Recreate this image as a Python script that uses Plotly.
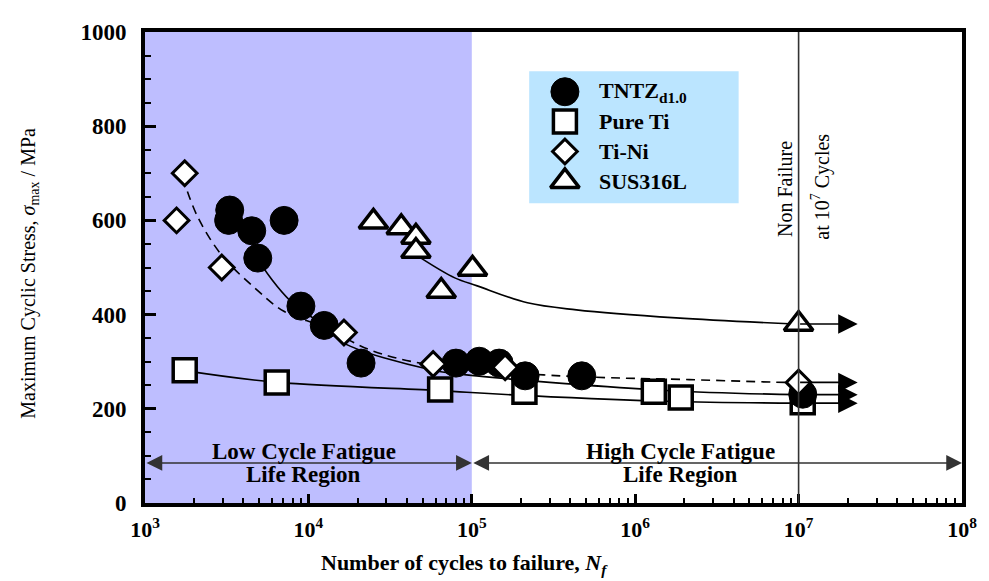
import math
import plotly.graph_objects as go

# ---------------- data ----------------
tntz_n = [3300, 3250, 4500, 4900, 7100, 9000, 12500, 21000, 80000, 111000, 147000, 212000, 471000, 1.06e7]
tntz_s = [622, 600, 578, 520, 600, 418, 377, 297, 297, 301, 297, 270, 270, 231]

pureti_n = [1750, 6400, 64000, 210000, 1.3e6, 1.9e6, 1.06e7]
pureti_s = [282, 256, 241, 236, 236, 224, 214]

tini_n = [1560, 1750, 2950, 16500, 58000, 160000, 1.0e7]
tini_s = [600, 700, 500, 362, 295, 288, 256]

sus_n = [25000, 37000, 45500, 45500, 65000, 101000, 1.0e7]
sus_s = [597, 585, 565, 535, 450, 497, 380]

# fitted trend curves
tntz_fit_n = [4470, 4900, 7800, 12400, 16400, 56000, 107000, 1.55e6, 1.0e7]
tntz_fit_s = [565, 520, 428, 377, 340, 283, 270, 239, 230]

tini_fit_n = [1700, 2090, 2950, 4680, 7080, 12300, 24300, 56200, 275000, 692000, 2.14e6, 8.3e6, 1.0e7]
tini_fit_s = [692, 609, 526, 457, 407, 374, 324, 293, 272, 266, 262, 256, 256]

pureti_fit_n = [1740, 6460, 63000, 93000, 1.55e6, 1.0e7]
pureti_fit_s = [281, 256, 239, 235, 216, 212]

sus_fit_n = [48900, 78700, 108000, 219000, 437000, 1.78e6, 9.5e6]
sus_fit_s = [520, 478, 461, 425, 410, 393, 380]

# run-out arrows at 10^7 cycles (start N, end N, stress)
runout_start = 1.0e7
runout_end = 2.3e7
runout_s = [380, 256, 230, 212]

series_names = ["TNTZ<sub>d1.0</sub>", "Pure Ti", "Ti-Ni", "SUS316L"]

x_ticks = [1e3, 1e4, 1e5, 1e6, 1e7, 1e8]
x_ticktext = ["10<sup>3</sup>", "10<sup>4</sup>", "10<sup>5</sup>",
              "10<sup>6</sup>", "10<sup>7</sup>", "10<sup>8</sup>"]

# ---------------- styling ----------------
FONT = "Liberation Serif"
SHADE = "#BEBEFF"
LEGBG = "#BBE5FF"

# plot area in figure pixels (page has an 8px body margin)
PL, PT, PW, PH = 137, 14, 823, 481


def px(xp):
    """reference page x-pixel -> paper x"""
    return (xp - 8 - PL) / PW


def py(yp):
    """reference page y-pixel -> paper y"""
    return 1 - (yp - 8 - PT) / PH


styles = [
    dict(symbol="circle", size=28, color="black", line=dict(color="black", width=1)),
    dict(symbol="square", size=23, color="white", line=dict(color="black", width=3.5)),
    dict(symbol="diamond", size=19, color="white", line=dict(color="black", width=3)),
    dict(symbol="triangle-up", size=25, color="white", line=dict(color="black", width=3.5)),
]

fig = go.Figure()

# curves
line_kw = dict(color="black", width=1.6, shape="spline")
fig.add_trace(go.Scatter(x=tntz_fit_n, y=tntz_fit_s, mode="lines", line=line_kw, showlegend=False, hoverinfo="skip"))
fig.add_trace(go.Scatter(x=pureti_fit_n, y=pureti_fit_s, mode="lines", line=line_kw, showlegend=False, hoverinfo="skip"))
fig.add_trace(go.Scatter(x=tini_fit_n, y=tini_fit_s, mode="lines", line=dict(line_kw, dash="9px,6px"), showlegend=False, hoverinfo="skip"))
fig.add_trace(go.Scatter(x=sus_fit_n, y=sus_fit_s, mode="lines", line=line_kw, showlegend=False, hoverinfo="skip"))

# markers (squares first, then circles, diamonds, triangles — as stacked in the reference)
data = [(tntz_n, tntz_s), (pureti_n, pureti_s), (tini_n, tini_s), (sus_n, sus_s)]
for idx in [1, 0, 2, 3]:
    xs, ys = data[idx]
    fig.add_trace(go.Scatter(x=xs, y=ys, mode="markers", marker=styles[idx], name=series_names[idx],
                             showlegend=False, cliponaxis=False))

# manual legend on an overlay axis (paper-like 0..1)
leg_x_sym = px(568)
leg_x_txt = px(600)
leg_top = py(83)
leg_step = 30.5 / PH
for i, (st, nm) in enumerate(zip(styles, series_names)):
    yy = leg_top - i * leg_step
    fig.add_trace(go.Scatter(x=[leg_x_sym], y=[yy], mode="markers", marker=st, xaxis="x2", yaxis="y2",
                             showlegend=False, hoverinfo="skip", cliponaxis=False))
    fig.add_annotation(x=leg_x_txt, y=yy, xref="paper", yref="paper", text="<b>%s</b>" % nm,
                       showarrow=False, xanchor="left", yanchor="middle",
                       font=dict(family=FONT, size=22, color="black"))

# shapes
fig.add_shape(type="rect", xref="x", yref="y", x0=1e3, x1=1e5, y0=0, y1=1000,
              fillcolor=SHADE, line=dict(width=0), layer="below")
fig.add_shape(type="rect", xref="paper", yref="paper", x0=px(532), x1=px(743), y0=py(197), y1=py(62),
              fillcolor=LEGBG, line=dict(width=0), layer="below")
fig.add_shape(type="line", xref="x", yref="y", x0=1e7, x1=1e7, y0=0, y1=1000,
              line=dict(color="#333333", width=1.6))

# run-out arrows
for s in runout_s:
    fig.add_annotation(x=math.log10(runout_end), y=s, ax=math.log10(runout_start), ay=s,
                       xref="x", yref="y", axref="x", ayref="y", text="", showarrow=True,
                       arrowhead=2, arrowsize=2.3, arrowwidth=1.7, arrowcolor="black", standoff=0)

# region arrows
region_y = 85
for a, b in [(3, 5), (5, 8)]:
    fig.add_annotation(x=b, y=region_y, ax=a, ay=region_y, xref="x", yref="y", axref="x", ayref="y",
                       text="", showarrow=True, arrowside="end+start", arrowhead=2, startarrowhead=2,
                       arrowsize=2.1, startarrowsize=2.1, arrowwidth=1.5, arrowcolor="#333333",
                       standoff=0, startstandoff=0)

for xc, t1 in [(3.972, "Low Cycle Fatigue"), (6.28, "High Cycle Fatigue")]:
    fig.add_annotation(x=xc, y=110, xref="x", yref="y", text="<b>%s</b>" % t1, showarrow=False,
                       font=dict(family=FONT, size=23, color="black"), xanchor="center", yanchor="middle")
    fig.add_annotation(x=xc, y=60, xref="x", yref="y", text="<b>Life Region</b>", showarrow=False,
                       font=dict(family=FONT, size=23, color="black"), xanchor="center", yanchor="middle")

# Non failure text
fig.add_annotation(x=px(789), y=py(182), xref="paper", yref="paper",
                   text="Non Failure", textangle=-90, showarrow=False,
                   xanchor="center", yanchor="middle",
                   font=dict(family=FONT, size=20, color="black"))
fig.add_annotation(x=px(826), y=py(180), xref="paper", yref="paper",
                   text="at 10<sup>7</sup> Cycles", textangle=-90, showarrow=False,
                   xanchor="center", yanchor="middle",
                   font=dict(family=FONT, size=20, color="black"))

# axis titles
fig.add_annotation(x=px(467), y=py(565), xref="paper", yref="paper",
                   text="<b>Number of cycles to failure, <i>N<sub>f</sub></i></b>", showarrow=False,
                   font=dict(family=FONT, size=22, color="black"), xanchor="center", yanchor="middle")
fig.add_annotation(x=px(29), y=py(268), xref="paper", yref="paper",
                   text="Maximum Cyclic Stress, <i>σ</i><sub>max</sub> / MPa", textangle=-90,
                   showarrow=False, xanchor="center", yanchor="middle",
                   font=dict(family=FONT, size=20, color="black"))

minor_x = [k * 10 ** d for d in range(3, 8) for k in range(2, 10)]

fig.update_layout(
    width=981, height=573,
    margin=dict(l=PL, r=981 - PL - PW, t=PT, b=573 - PT - PH),
    paper_bgcolor="white", plot_bgcolor="white",
    showlegend=False,
    xaxis=dict(type="log", range=[3, 8], showgrid=False, zeroline=False,
               showline=True, linewidth=4, linecolor="black", mirror=True,
               ticks="inside", ticklen=9, tickwidth=2.5, tickcolor="black",
               tickmode="array", tickvals=x_ticks, ticktext=["<b>%s</b>" % t for t in x_ticktext],
               tickfont=dict(family=FONT, size=22, color="black"),
               ticklabelstandoff=4,
               minor=dict(tickmode="array", tickvals=minor_x, ticks="inside", ticklen=5,
                          tickwidth=2, tickcolor="black")),
    yaxis=dict(range=[0, 1000], showgrid=False, zeroline=False,
               showline=True, linewidth=4, linecolor="black", mirror=True,
               ticks="inside", ticklen=11, tickwidth=2.5, tickcolor="black",
               dtick=200, tick0=0,
               tickfont=dict(family=FONT, size=23, color="black"),
               tickprefix="<b>", ticksuffix="</b>",
               ticklabelstandoff=10,
               minor=dict(dtick=50, ticks="inside", ticklen=6, tickwidth=2, tickcolor="black")),
    xaxis2=dict(overlaying="x", range=[0, 1], visible=False, fixedrange=True),
    yaxis2=dict(overlaying="y", range=[0, 1], visible=False, fixedrange=True),
)

fig.write_html("out.html")
